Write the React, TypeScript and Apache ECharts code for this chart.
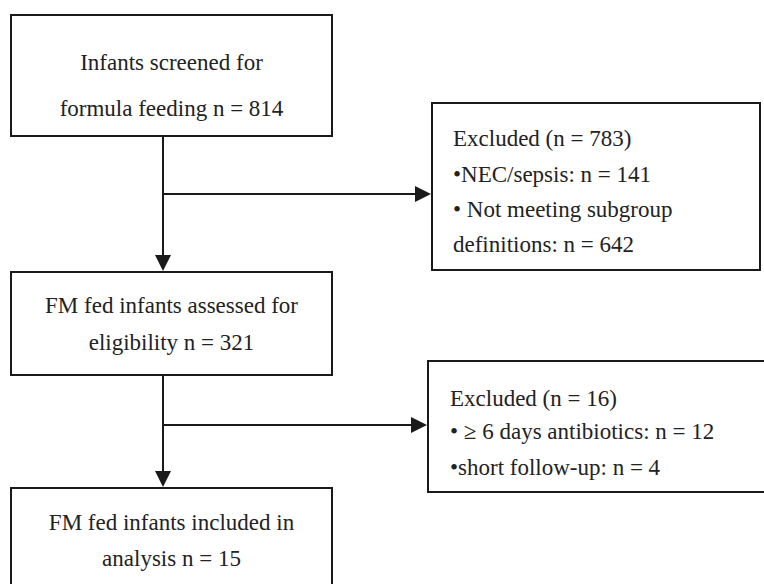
import React, { useEffect, useRef } from "react";
import * as echarts from "echarts";

// ---- content ----
const mainSteps: string[][] = [
  ["Infants screened for", "formula feeding n = 814"],
  ["FM fed infants assessed for", "eligibility n = 321"],
  ["FM fed infants included in", "analysis n = 15"],
];
const exclusions: string[][] = [
  ["Excluded (n = 783)", "•NEC/sepsis: n = 141", "• Not meeting subgroup", "definitions: n = 642"],
  ["Excluded (n = 16)", "• ≥ 6 days antibiotics: n = 12", "•short follow-up: n = 4"],
];

// ---- layout ----
const mainBoxes = [
  { x: 11, y: 15, w: 321, h: 121, lines: [62, 108] },
  { x: 11, y: 272, w: 321, h: 103, lines: [305, 342] },
  { x: 11, y: 488, w: 321, h: 130, lines: [522, 558] },
];
const sideBoxes = [
  { x: 432, y: 103, w: 328, h: 167, tx: 453, lines: [138, 174, 209, 244] },
  { x: 428, y: 361, w: 350, h: 131, tx: 450, lines: [398, 431, 467] },
];
const branchY = [194, 425];
const spineX = 163;

const FONT = "'Liberation Serif', 'DejaVu Serif', serif";
const FS = 23;
const INK = "#1a1a1a";
const LW = 2;
const AH = 16; // arrow head length
const AW = 8; // arrow head half width

function buildGraphics() {
  const els: any[] = [];
  mainBoxes.forEach((b, i) => {
    els.push({
      type: "rect",
      shape: { x: b.x, y: b.y, width: b.w, height: b.h },
      style: { fill: "#fff", stroke: INK, lineWidth: LW },
    });
    mainSteps[i].forEach((t, j) => {
      els.push({
        type: "text",
        x: b.x + b.w / 2,
        y: b.lines[j],
        style: {
          text: t,
          font: `${FS}px ${FONT}`,
          fill: "#222",
          align: "center",
          verticalAlign: "middle",
        },
      });
    });
  });
  sideBoxes.forEach((b, i) => {
    els.push({
      type: "rect",
      shape: { x: b.x, y: b.y, width: b.w, height: b.h },
      style: { fill: "#fff", stroke: INK, lineWidth: LW },
    });
    exclusions[i].forEach((t, j) => {
      els.push({
        type: "text",
        x: b.tx,
        y: b.lines[j],
        style: {
          text: t,
          font: `${FS}px ${FONT}`,
          fill: "#222",
          align: "left",
          verticalAlign: "middle",
        },
      });
    });
  });
  // connectors
  for (let k = 0; k < 2; k++) {
    const top = mainBoxes[k].y + mainBoxes[k].h;
    const next = mainBoxes[k + 1].y - 1;
    els.push({
      type: "line",
      shape: { x1: spineX, y1: top, x2: spineX, y2: next - AH + 2 },
      style: { stroke: INK, lineWidth: LW },
    });
    els.push({
      type: "polygon",
      shape: { points: [[spineX - AW, next - AH], [spineX + AW, next - AH], [spineX, next]] },
      style: { fill: INK },
    });
    const by = branchY[k];
    const tip = sideBoxes[k].x - 1;
    els.push({
      type: "line",
      shape: { x1: spineX, y1: by, x2: tip - AH + 2, y2: by },
      style: { stroke: INK, lineWidth: LW },
    });
    els.push({
      type: "polygon",
      shape: { points: [[tip - AH, by - AW], [tip - AH, by + AW], [tip, by]] },
      style: { fill: INK },
    });
  }
  return els;
}

export default function App() {
  const ref = useRef<HTMLDivElement>(null);
  useEffect(() => {
    document.body.style.margin = "0";
    const chart = echarts.init(ref.current!, null, { renderer: "svg" });
    chart.setOption({
      animation: false,
      backgroundColor: "#fff",
      graphic: { elements: buildGraphics() },
    });
    return () => chart.dispose();
  }, []);
  return <div ref={ref} style={{ width: 764, height: 584 }} />;
}
